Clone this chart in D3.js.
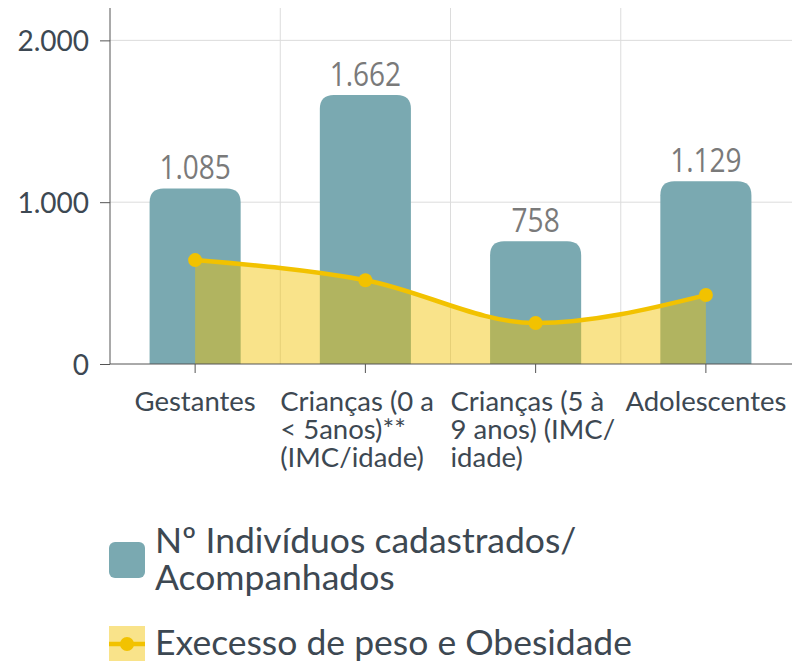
<!DOCTYPE html>
<html><head><meta charset="utf-8">
<script src="https://cdn.jsdelivr.net/npm/d3@7"></script>
<style>body{margin:0;background:#fff}</style>
</head><body><svg id="chart" width="792" height="663"></svg>
<script>
// Categories, wrapped label lines, series values and axis ticks
const categories = ["Gestantes", "Crianças (0 a < 5anos)** (IMC/idade)", "Crianças (5 à 9 anos) (IMC/ idade)", "Adolescentes"];
const categoryLines = [["Gestantes"], ["Crianças (0 a", "< 5anos)**", "(IMC/idade)"], ["Crianças (5 à", "9 anos) (IMC/", "idade)"], ["Adolescentes"]];
const cadastrados = [1085, 1662, 758, 1129];
const excesso = [642, 518, 253, 426];
const yTicks = [0, 1000, 2000];
const legendBars = ["Nº Indivíduos cadastrados/", "Acompanhados"];
const legendLine = ["Execesso de peso e Obesidade"];

const BAR = "#7aa9b1", GOLD = "#f2c200", TEXT = "#3d4852";
const svg = d3.select("#chart");
const fmt = d3.formatLocale({decimal: ",", thousands: ".", grouping: [3], currency: ["R$", ""]}).format(",d");

const x = d3.scaleBand().domain(categories).range([110, 791]).padding(0);
const y = d3.scaleLinear().domain([0, 2200]).range([364, 8]);
const cx = c => x(c) + x.bandwidth() / 2;
const barW = x.bandwidth() * 0.535;

// grid
const grid = svg.append("g").attr("stroke", "#dcdcdc").attr("stroke-width", 1);
grid.selectAll("line.h").data(yTicks.filter(t => t > 0)).join("line")
  .attr("x1", 110).attr("x2", 792).attr("y1", d => y(d)).attr("y2", d => y(d));
grid.selectAll("line.v").data(categories.slice(0, -1)).join("line")
  .attr("x1", d => x(d) + x.bandwidth()).attr("x2", d => x(d) + x.bandwidth())
  .attr("y1", y.range()[1]).attr("y2", y(0));

// bars with rounded tops
function topRounded(x0, y0, w, h, r) {
  r = Math.min(r, h, w / 2);
  return `M${x0},${y0 + h}V${y0 + r}Q${x0},${y0} ${x0 + r},${y0}H${x0 + w - r}Q${x0 + w},${y0} ${x0 + w},${y0 + r}V${y0 + h}Z`;
}
svg.append("g").selectAll("path").data(categories).join("path")
  .attr("fill", BAR)
  .attr("d", (c, i) => topRounded(cx(c) - barW / 2, y(cadastrados[i]), barW, y(0) - y(cadastrados[i]), 14));

// value labels
svg.append("g").selectAll("text").data(categories).join("text")
  .attr("transform", (c, i) => `translate(${cx(c)},${y(cadastrados[i]) - 9}) scale(0.85,1)`)
  .attr("text-anchor", "middle").attr("font-family", "Open Sans").attr("font-size", 33)
  .attr("fill", "#7a7a7a").text((c, i) => fmt(cadastrados[i]));

// area + line
const pts = categories.map((c, i) => [cx(c), excesso[i]]);
const area = d3.area().x(d => d[0]).y0(y(0)).y1(d => y(d[1])).curve(d3.curveMonotoneX);
const line = d3.line().x(d => d[0]).y(d => y(d[1])).curve(d3.curveMonotoneX);
svg.append("path").attr("d", area(pts)).attr("fill", GOLD).attr("fill-opacity", 0.46);
svg.append("path").attr("d", line(pts)).attr("fill", "none").attr("stroke", GOLD).attr("stroke-width", 4.5);
svg.append("g").selectAll("circle").data(pts).join("circle")
  .attr("cx", d => d[0]).attr("cy", d => y(d[1])).attr("r", 7).attr("fill", GOLD);

// axes
const yAxis = svg.append("g").attr("transform", "translate(110,0)")
  .call(d3.axisLeft(y).tickValues(yTicks).tickFormat(fmt).tickSize(10).tickPadding(11));
yAxis.select(".domain").attr("stroke", "#555").attr("d", `M0,${y.range()[1]}V${y(0)}`);
yAxis.selectAll(".tick line").attr("stroke", "#555");
yAxis.selectAll(".tick text").attr("font-family", "Lato").attr("font-size", 28).attr("fill", TEXT).attr("dy", "0.36em");

const xAxis = svg.append("g").attr("transform", `translate(0,${y(0)})`)
  .call(d3.axisBottom(x).tickSize(9).tickFormat(""));
xAxis.select(".domain").attr("stroke", "#555").attr("d", "M110,0H792");
xAxis.selectAll(".tick line").attr("stroke", "#555");

// category labels: single lines centred on the tick, wrapped ones left-aligned at the band start
categories.forEach((c, i) => {
  const g = svg.append("g").attr("font-family", "Lato").attr("font-size", 27.5).attr("fill", TEXT);
  const texts = categoryLines[i].map((t, k) => g.append("text").attr("y", 411 + k * 28).text(t));
  const w = d3.max(texts, t => t.node().getComputedTextLength());
  const left = texts.length > 1 ? x(c) : cx(c) - w / 2;
  g.attr("transform", `translate(${left},0)`);
});

// legend
const lg = svg.append("g").attr("font-family", "Lato").attr("font-size", 35.5).attr("fill", TEXT);
lg.append("rect").attr("x", 109).attr("y", 542).attr("width", 36).attr("height", 36).attr("rx", 6).attr("fill", BAR);
legendBars.forEach((t, k) => lg.append("text").attr("x", 155).attr("y", 553 + k * 37).text(t));
lg.append("rect").attr("x", 109).attr("y", 626).attr("width", 36).attr("height", 35).attr("fill", GOLD).attr("fill-opacity", 0.46);
lg.append("line").attr("x1", 109).attr("x2", 145).attr("y1", 644).attr("y2", 644).attr("stroke", GOLD).attr("stroke-width", 4.5);
lg.append("circle").attr("cx", 127).attr("cy", 644).attr("r", 7).attr("fill", GOLD);
legendLine.forEach(t => lg.append("text").attr("x", 155).attr("y", 655).text(t));
</script></body></html>
